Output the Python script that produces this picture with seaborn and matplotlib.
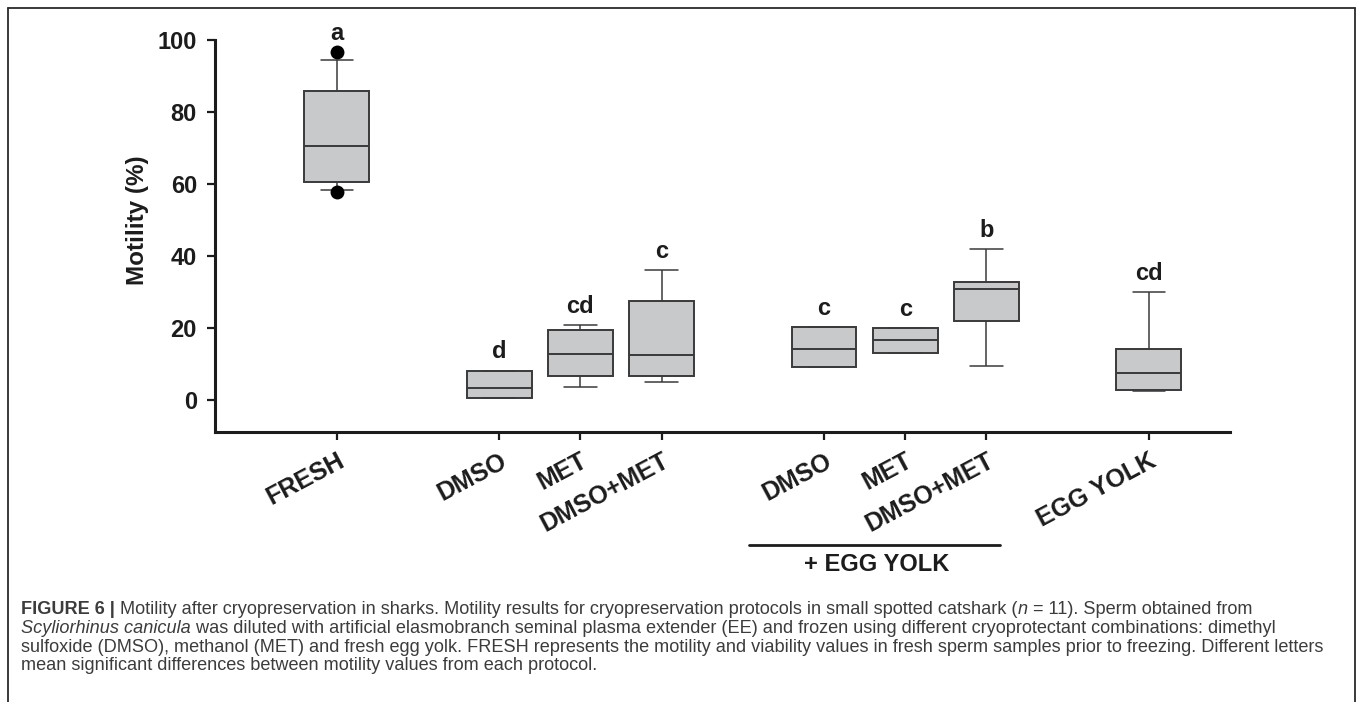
import numpy as np
import pandas as pd
import matplotlib
matplotlib.use("Agg")
import matplotlib.pyplot as plt
from matplotlib.lines import Line2D
import seaborn as sns

# ---- data: five-number summaries of sperm motility (%) per protocol ----
groups = ["FRESH", "DMSO", "MET", "DMSO+MET",
          "DMSO + EY", "MET + EY", "DMSO+MET + EY", "EGG YOLK"]
tick_labels = ["FRESH", "DMSO", "MET", "DMSO+MET",
               "DMSO", "MET", "DMSO+MET", "EGG YOLK"]
whisker_low = [58.3, 0.55, 3.4, 4.8, 9.1, 12.9, 9.3, 2.3]
q1 = [60.5, 0.55, 6.6, 6.6, 9.1, 12.9, 22.0, 2.7]
median = [70.6, 3.15, 12.7, 12.3, 14.1, 16.6, 30.9, 7.3]
q3 = [85.8, 8.1, 19.4, 27.4, 20.1, 19.9, 32.8, 14.2]
whisker_high = [94.4, 8.1, 20.8, 36.1, 20.1, 19.9, 41.9, 29.8]
outlier_group = ["FRESH", "FRESH"]
outlier_value = [96.6, 57.6]
letters = ["a", "d", "cd", "c", "c", "c", "b", "cd"]

# ---- layout: protocol families are separated by an empty slot ----
slot = [0, 2, 3, 4, 6, 7, 8, 10]
pos_of = dict(zip(groups, slot))

rows = []
for g, lo, a, m, b, hi in zip(groups, whisker_low, q1, median, q3, whisker_high):
    for v in (lo, a, m, b, hi):
        rows.append({"pos": pos_of[g], "motility": v})
df = pd.DataFrame(rows)
fl = pd.DataFrame({"pos": [pos_of[g] for g in outlier_group],
                   "motility": outlier_value})

sns.set_style("ticks")
plt.rcParams["font.family"] = ["Liberation Sans", "DejaVu Sans"]

W, H = 13.6, 7.02
fig = plt.figure(figsize=(W, H), dpi=100)
ax = fig.add_axes([215 / 1360, 1 - 432 / 702, 1015 / 1360, 392 / 702])

ink = "#1c1c1c"
edge = "#3a3a3a"
sns.boxplot(data=df, x="pos", y="motility", native_scale=True, width=0.8,
            whis=(0, 100), showfliers=False, color="#c8c9cb", saturation=1,
            linecolor=edge, linewidth=1.4, ax=ax,
            whiskerprops={"linewidth": 1.1}, capprops={"linewidth": 1.1})
sns.scatterplot(data=fl, x="pos", y="motility", color="black", s=100,
                linewidth=0, ax=ax, zorder=5, legend=False)

# significance letters above each protocol
top = {g: hi for g, hi in zip(groups, whisker_high)}
for g, v in zip(outlier_group, outlier_value):
    top[g] = max(top[g], v)
for g, lt in zip(groups, letters):
    ax.text(pos_of[g], top[g] + 5.2, lt, ha="center", va="center",
            fontsize=17, fontweight="bold", color=ink, clip_on=False)

ax.set_xlim(-1.5, 11)
ax.set_ylim(-9, 100)
ax.set_yticks([0, 20, 40, 60, 80, 100])
ax.set_xticks(slot)
ax.set_xticklabels(tick_labels, rotation=28, ha="right",
                   rotation_mode="anchor", fontsize=18, fontweight="bold",
                   color=ink)
ax.tick_params(axis="y", labelsize=17, length=6, width=1.6, pad=7,
               colors=ink)
ax.tick_params(axis="x", length=6, width=1.6, pad=6, colors=ink)
for lab in ax.get_yticklabels():
    lab.set_fontweight("bold")
ax.set_xlabel("")
ax.set_ylabel("Motility (%)", fontsize=17.5, fontweight="bold", color=ink)
ax.yaxis.set_label_coords(-0.065, 0.54)
for s in ("top", "right"):
    ax.spines[s].set_visible(False)
for s in ("left", "bottom"):
    ax.spines[s].set_linewidth(2.2)
    ax.spines[s].set_color(ink)

# bracket grouping the egg-yolk combinations
tr = ax.get_xaxis_transform()
ax.add_line(Line2D([5.08, 8.17], [-0.288, -0.288], transform=tr,
                   color=ink, linewidth=2, clip_on=False))
ax.text(6.65, -0.337, "+ EGG YOLK", transform=tr, ha="center", va="center",
        fontsize=17, fontweight="bold", color=ink)

# figure frame
fx0, fx1, fy1 = 8 / 1360, 1355 / 1360, 1 - 8 / 702
frame_kw = {"color": "#2a2a2a", "linewidth": 1.3}
fig.add_artist(Line2D([fx0, fx1], [fy1, fy1], **frame_kw))
fig.add_artist(Line2D([fx0, fx0], [-0.01, fy1], **frame_kw))
fig.add_artist(Line2D([fx1, fx1], [-0.01, fy1], **frame_kw))

# caption, drawn run by run so bold / italic pieces flow inline
cap_color = "#3c3c3c"
cap_family = ["Liberation Sans", "DejaVu Sans"]
caption = [
    [("FIGURE 6 |", "bold"),
     (" Motility after cryopreservation in sharks. Motility results for "
      "cryopreservation protocols in small spotted catshark (", "normal"),
     ("n", "italic"), (" = 11). Sperm obtained from", "normal")],
    [("Scyliorhinus canicula", "italic"),
     (" was diluted with artificial elasmobranch seminal plasma extender (EE) "
      "and frozen using different cryoprotectant combinations: dimethyl", "normal")],
    [("sulfoxide (DMSO), methanol (MET) and fresh egg yolk. FRESH represents "
      "the motility and viability values in fresh sperm samples prior to "
      "freezing. Different letters", "normal")],
    [("mean significant differences between motility values from each protocol.",
      "normal")],
]
baselines = [614, 633, 651.5, 670]
renderer = fig.canvas.get_renderer()


def run_kwargs(style):
    if style == "bold":
        return {"fontweight": "bold"}
    if style == "italic":
        return {"fontstyle": "italic"}
    return {}


def draw_line(runs, yb, size):
    x = 21 / 1360
    items = []
    for txt, style in runs:
        t = fig.text(x, 1 - yb / 702, txt, fontsize=size, color=cap_color,
                     family=cap_family, va="baseline", ha="left",
                     **run_kwargs(style))
        x += t.get_window_extent(renderer=renderer).width / (W * 100)
        items.append(t)
    return items, x * W * 100 - 21


# size the caption so the first line spans the caption block
probe, probe_w = draw_line(caption[0], baselines[0], 10)
for t in probe:
    t.remove()
cap_size = 10 * 1236 / probe_w
for line, yb in zip(caption, baselines):
    draw_line(line, yb, cap_size)

fig.savefig("out.png", dpi=100)
